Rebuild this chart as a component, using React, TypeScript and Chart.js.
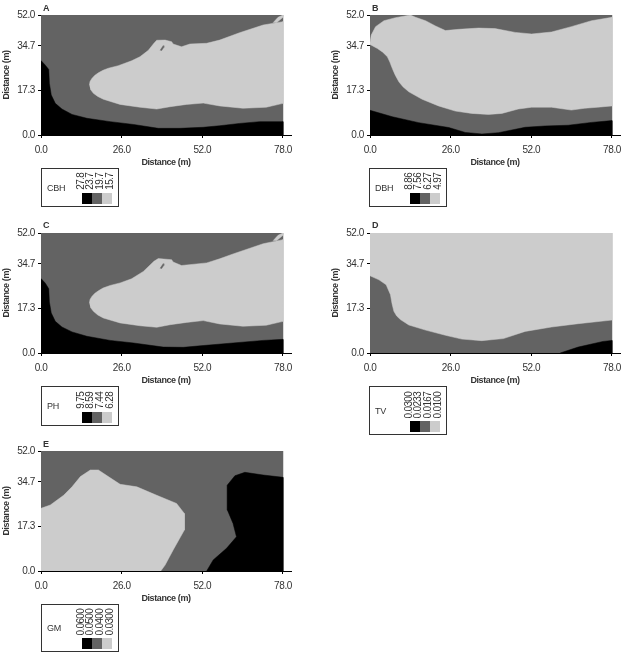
import React, { useEffect, useRef } from "react";
import { Chart, LinearScale, registerables } from "chart.js";

class SegmentedScale extends (LinearScale as any) {
  static id = "segmented";
  static defaults = LinearScale.defaults;
  getPixelForValue(value: number) {
    let i = 0;
    while (i < yTickValues.length - 2 && value > yTickValues[i + 1]) i++;
    const t = (value - yTickValues[i]) / (yTickValues[i + 1] - yTickValues[i]);
    return (this as any).getPixelForDecimal(yTickShares[i] + t * (yTickShares[i + 1] - yTickShares[i]));
  }
}
Chart.register(...registerables, SegmentedScale as any);

type Pt = [number, number];

const xTickValues = [0, 26, 52, 78];
const yTickValues = [0, 17.3, 34.7, 52];
const yTickShares = [0, 0.3708, 0.7417, 1];
const xAxisEnd = 80.58;

const fieldFrame: Pt[] = [[0, 0], [78, 0], [78, 52], [0, 52]];

const aBlack: Pt[] = [[0, 29], [1.4, 27.2], [2.5, 25.5], [2.7, 20.1], [3.3, 15.6], [4.6, 12.3], [6.75, 10.1], [10, 8], [14.8, 6.5], [22.3, 5.2], [29.8, 4.1], [37.8, 2.6], [44.8, 2.6], [52.3, 3], [57.6, 3.6], [64, 4.5], [70.5, 5.2], [78, 5.2], [78, 0], [0, 0]];
const aLight: Pt[] = [[15.6, 19.4], [15.8, 20.8], [16.4, 22], [17.3, 23.2], [18.5, 24.2], [20, 25.2], [21.7, 26], [24.9, 27], [29.2, 28.9], [31.9, 30.5], [34.6, 33], [36.4, 36.2], [37.3, 37.9], [40, 38], [42.1, 37.1], [42.6, 35.8], [45.3, 34.4], [48, 35.8], [53.4, 36.2], [57.6, 38], [64, 42.1], [71.6, 46.4], [78, 48.3], [78, 12.3], [72.6, 10.8], [65.1, 10.4], [57.6, 11.3], [52.3, 12.4], [46.9, 11.9], [41.6, 11], [37.3, 10.1], [31.9, 10.8], [25.5, 11.9], [20.1, 13.9], [18.3, 15], [16.9, 16.2], [15.9, 17.8]];
const aSliver: Pt[] = [[74.8, 47.7], [76.4, 50.7], [78, 52], [78, 50.7], [75.9, 47.7]];
const aFleck: Pt[] = [[38.4, 33], [39.4, 34.9], [39.6, 34.2], [38.8, 32.8]];

const bBlack: Pt[] = [[0, 9.6], [7.2, 7.1], [15.7, 4.8], [25.4, 2.9], [30.7, 1], [36.1, 0.4], [41.4, 0.9], [50, 3], [56.4, 3.5], [63.9, 3.8], [71.4, 4.9], [78, 5.6], [78, 0], [0, 0]];
const bLight: Pt[] = [[0, 36.6], [0.4, 40.8], [1.8, 45.5], [4.5, 48.8], [8.2, 50.5], [13, 52], [14.7, 50.7], [17.9, 48.8], [21.1, 45.9], [24.3, 43.3], [28.6, 44], [35, 44.7], [40.3, 44.4], [46.8, 42.3], [52.1, 41.4], [58.5, 42.5], [64.9, 45.5], [71.4, 48.8], [78, 50.7], [78, 11.3], [73.4, 10.8], [69.2, 10.4], [64.9, 9.7], [58.5, 10.8], [52.1, 10.8], [47.8, 10.1], [42.5, 8.4], [38.2, 8], [32.8, 8.4], [27.5, 9.3], [22.1, 11.3], [16.8, 13.9], [12.5, 16.8], [10.6, 18.8], [9.3, 20.7], [8.1, 23.4], [7.2, 25.9], [6.4, 28.4], [5.6, 30.5], [4.1, 32.3], [2.4, 33.7], [0, 35.6]];

const cBlack: Pt[] = [[0, 29], [1.4, 27.2], [2.5, 25], [2.7, 19.8], [3.3, 15.6], [4.6, 12.3], [6.75, 10.1], [10, 8.2], [14.8, 6.5], [22.3, 4.9], [29.8, 3.9], [39.4, 2.3], [45.9, 2.2], [52.3, 2.9], [61.9, 3.9], [71.6, 4.9], [78, 5.3], [78, 0], [0, 0]];
const cLight: Pt[] = [[15.6, 19.4], [15.8, 20.8], [16.4, 22], [17.3, 23.2], [18.5, 24.2], [20, 25.3], [22.3, 26.3], [25.5, 27.3], [29.2, 28.9], [33, 31.8], [36.4, 36.2], [37.8, 37.7], [42.1, 37.1], [42.6, 35.8], [45.3, 34.1], [53.4, 35.3], [57.6, 37.6], [61.9, 40.3], [71.6, 46], [78, 48.3], [78, 12.3], [72.6, 10.8], [65.1, 10.4], [57.6, 11.3], [52.3, 12.6], [46.9, 11.9], [41.6, 11], [37.3, 10], [31.9, 10.6], [25.5, 11.7], [20.1, 13.6], [18.3, 14.8], [16.9, 16.2], [15.9, 17.8]];
const cSliver: Pt[] = [[74.8, 47.7], [76.4, 50.7], [78, 52], [78, 50.7], [75.9, 47.7]];
const cFleck: Pt[] = [[38.4, 33], [39.4, 34.9], [39.6, 34.2], [38.8, 32.8]];

const dBlack: Pt[] = [[61.3, 0], [67.1, 2.3], [75.1, 4.5], [78, 4.9], [78, 0]];
const dLight: Pt[] = [[0, 30.1], [2.9, 28.5], [5.2, 26.6], [6.6, 22.7], [7.1, 19.2], [7.7, 16.2], [8.6, 14.4], [9.8, 13], [12.5, 10.9], [17.9, 8.9], [24.3, 6.9], [29.6, 5.4], [36, 4.8], [43, 5.6], [50, 8.4], [58.5, 10.1], [67.1, 11.4], [78, 12.8], [78, 52], [0, 52]];

const eBlack: Pt[] = [[53.4, 0], [55.5, 4.3], [59.8, 8.8], [63, 13.3], [61.9, 18.5], [60.1, 23.7], [60, 33.4], [62.5, 38.2], [65.7, 40.1], [71.6, 38.6], [78, 37.3], [78, 0]];
const eLight: Pt[] = [[0, 24.4], [3, 25.7], [7.3, 29.5], [10, 32.8], [12.7, 37.7], [15.9, 41.4], [18.5, 41.4], [21.7, 37.7], [25.5, 33.8], [30.9, 32.8], [37.3, 29.5], [43.7, 26.3], [46.2, 22.4], [46.2, 15.9], [42.6, 8.2], [40, 2.3], [38.6, 0], [0, 0]];

const legendA = ["27.8", "23.7", "19.7", "15.7"];
const legendB = ["8.86", "7.56", "6.27", "4.97"];
const legendC = ["9.75", "8.59", "7.44", "6.28"];
const legendD = ["0.0300", "0.0233", "0.0167", "0.0100"];
const legendE = ["0.0600", "0.0500", "0.0400", "0.0300"];

const BLACK = "#000000";
const MID = "#636363";
const LIGHT = "#cccccc";
const INK = "#333333";
const SANS = '"Liberation Sans", sans-serif';

const TOP_GAP = 15;
const AXIS_W = 41;
const RIGHT_GAP = 6;
const CANVAS_W = 297;
const CANVAS_H = 168;

const tightText = {
  id: "tightText",
  beforeDraw(chart: any) {
    chart.ctx.letterSpacing = "-0.4px";
  },
};

function area(data: Pt[], color: string) {
  return {
    data: data.map(([x, y]) => ({ x, y })),
    showLine: true,
    fill: "shape",
    backgroundColor: color,
    borderColor: color,
    borderWidth: 0.5,
    pointRadius: 0,
    tension: 0,
  };
}

function Panel({ left, top, layers }: { left: number; top: number; layers: [Pt[], string][] }) {
  const ref = useRef<HTMLCanvasElement>(null);
  useEffect(() => {
    const font = { family: SANS, size: 10 };
    const titleFont = { family: SANS, size: 9, weight: "bold" };
    const chart = new Chart(ref.current as HTMLCanvasElement, {
      type: "scatter",
      data: { datasets: layers.map(([d, c]) => area(d, c)) as any },
      plugins: [tightText],
      options: {
        animation: false,
        responsive: false,
        layout: { padding: { top: TOP_GAP, right: RIGHT_GAP } },
        plugins: { legend: { display: false }, tooltip: { enabled: false } },
        scales: {
          x: {
            type: "linear",
            min: 0,
            max: xAxisEnd,
            grid: { drawOnChartArea: false, color: "#000", tickLength: 3 },
            border: { color: "#000", width: 1 },
            ticks: { font, color: INK, padding: 6, maxRotation: 0, autoSkip: false, callback: (v: any) => Number(v).toFixed(1) },
            title: { display: true, text: "Distance (m)", color: INK, padding: 0, font: titleFont },
            afterBuildTicks: (s: any) => { s.ticks = xTickValues.map((value) => ({ value })); },
            afterFit: (s: any) => { s.height = CANVAS_H - TOP_GAP - 120; s.paddingLeft = 0; s.paddingRight = 0; },
          },
          y: {
            type: "segmented",
            min: 0,
            max: 52,
            grid: { drawOnChartArea: false, color: "#000", tickLength: 3 },
            border: { color: "#000", width: 1 },
            ticks: { font, color: INK, padding: 3, autoSkip: false, callback: (v: any) => Number(v).toFixed(1) },
            title: { display: true, text: "Distance (m)", color: INK, padding: { top: 1, bottom: 0 }, font: titleFont },
            afterBuildTicks: (s: any) => { s.ticks = yTickValues.map((value) => ({ value })); },
            afterFit: (s: any) => { s.width = AXIS_W; s.paddingTop = 0; s.paddingBottom = 0; },
          },
        } as any,
      },
    } as any);
    return () => chart.destroy();
  }, []);
  return (
    <canvas
      ref={ref}
      width={CANVAS_W}
      height={CANVAS_H}
      style={{ position: "absolute", left: left - AXIS_W, top: top - TOP_GAP, width: CANVAS_W, height: CANVAS_H }}
    />
  );
}

function ScaleBox({ left, top, height, name, values }: { left: number; top: number; height: number; name: string; values: string[] }) {
  return (
    <div
      style={{
        position: "absolute",
        left,
        top,
        width: 78,
        height,
        boxSizing: "border-box",
        border: "1px solid #333",
        fontFamily: SANS,
        color: INK,
        transform: "translateZ(0)",
      }}
    >
      <div style={{ position: "absolute", left: 5, top: height / 2 - 7, fontSize: 9, letterSpacing: "-0.3px", lineHeight: "12px" }}>{name}</div>
      {values.map((v, i) => (
        <div
          key={v}
          style={{
            position: "absolute",
            left: 33.5 + i * 9.7,
            bottom: 16,
            fontSize: 10,
            letterSpacing: "-0.7px",
            lineHeight: "10px",
            writingMode: "vertical-rl",
            transform: "rotate(180deg)",
            whiteSpace: "nowrap",
          }}
        >
          {v}
        </div>
      ))}
      {[BLACK, MID, LIGHT].map((c, i) => (
        <div key={c} style={{ position: "absolute", left: 40 + i * 10, bottom: 2, width: 10, height: 11, background: c }} />
      ))}
    </div>
  );
}

function Letter({ left, top, text }: { left: number; top: number; text: string }) {
  return (
    <div style={{ position: "absolute", left, top, fontFamily: SANS, fontSize: 9, fontWeight: "bold", lineHeight: "10px", color: INK }}>
      {text}
    </div>
  );
}

export default function App() {
  return (
    <div style={{ position: "absolute", left: 0, top: 0, width: 624, height: 656, background: "#fff", overflow: "hidden" }}>
      <Panel left={41} top={15} layers={[[aFleck, MID], [aSliver, LIGHT], [aLight, LIGHT], [aBlack, BLACK], [fieldFrame, MID]]} />
      <Panel left={370} top={15} layers={[[bLight, LIGHT], [bBlack, BLACK], [fieldFrame, MID]]} />
      <Panel left={41} top={233} layers={[[cFleck, MID], [cSliver, LIGHT], [cLight, LIGHT], [cBlack, BLACK], [fieldFrame, MID]]} />
      <Panel left={370} top={233} layers={[[dBlack, BLACK], [dLight, LIGHT], [fieldFrame, MID]]} />
      <Panel left={41} top={451} layers={[[eLight, LIGHT], [eBlack, BLACK], [fieldFrame, MID]]} />
      <Letter left={43} top={3} text="A" />
      <Letter left={372} top={3} text="B" />
      <Letter left={43} top={220} text="C" />
      <Letter left={372} top={220} text="D" />
      <Letter left={43} top={439} text="E" />
      <ScaleBox left={41} top={168} height={39} name="CBH" values={legendA} />
      <ScaleBox left={369} top={168} height={39} name="DBH" values={legendB} />
      <ScaleBox left={41} top={386} height={40} name="PH" values={legendC} />
      <ScaleBox left={369} top={386} height={49} name="TV" values={legendD} />
      <ScaleBox left={41} top={604} height={48} name="GM" values={legendE} />
    </div>
  );
}
